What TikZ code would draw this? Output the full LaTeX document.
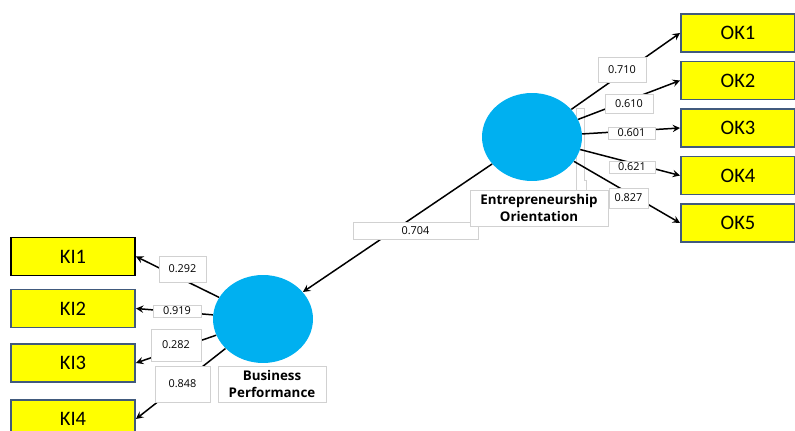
\documentclass[tikz,border=0pt]{standalone}
\usepackage{fontspec}
\setmainfont{Carlito}
\newfontfamily\numfont{Open Sans}
\usetikzlibrary{shapes,positioning}
\usetikzlibrary{arrows}

\definecolor{lvblue}{RGB}{0,176,240}
\definecolor{mvyellow}{RGB}{255,255,0}
\definecolor{mvedge}{RGB}{65,90,125}

\tikzset{
  latent/.style={ellipse,fill=lvblue,minimum width=2.0cm,minimum height=1.76cm,inner sep=0pt},
  manifest/.style={rectangle,fill=mvyellow,draw=mvedge,line width=1.1pt,minimum height=0.76cm,
                   inner sep=0pt,font=\fontsize{11.7}{12}\selectfont},
  coef/.style={rectangle,fill=white,draw=black!18,line width=0.5pt,inner sep=0pt,
               font=\numfont\fontsize{6.2}{7}\selectfont},
  lvname/.style={rectangle,fill=white,draw=black!18,line width=0.5pt,inner sep=0pt,align=center,
                 font=\numfont\bfseries\fontsize{7.6}{10.2}\selectfont},
  load/.style={->,>=stealth,line width=0.85pt}
}

\begin{document}
\begin{tikzpicture}[x=0.02cm,y=-0.02cm]

\useasboundingbox (0,0) rectangle (795,431);
\clip (0,0) rectangle (795,431);

\coordinate (eo) at (532,137);
\coordinate (bp) at (263,319);

% indicator blocks
\foreach \i/\y in {1/33,2/80.5,3/128,4/175.5,5/223}
  {\node[manifest,minimum width=2.28cm] (OK\i) at (738,\y) {OK\i};}
\node[manifest,minimum width=2.48cm,draw=black] (KI1) at (73,256.5) {KI1};
\foreach \i/\y in {2/308.5,3/363,4/419}
  {\node[manifest,minimum width=2.48cm] (KI\i) at (73,\y) {KI\i};}

% left-over frame lines behind the circle
\draw[black!18,line width=0.5pt] (576,190) -- (576,108) -- (584,108) -- (584,180)
   -- (586,180) -- (586,190) -- (608,190);

\node[latent] (EO) at (eo) {};
\node[latent] (BP) at (bp) {};

\foreach \i in {1,...,5}{\draw[load] (EO) -- (OK\i.west);}
\foreach \i in {1,...,4}{\draw[load] (BP) -- (KI\i.east);}
\draw[load] (EO) -- (BP);

% path coefficients
\node[coef,minimum width=0.96cm,minimum height=0.50cm] (w1) at (622,69.5)  {0.710};
\node[coef,minimum width=0.96cm,minimum height=0.38cm] (w2) at (629,103.5) {0.610};
\node[coef,minimum width=0.94cm,minimum height=0.24cm] (w3) at (631.5,133) {0.601};
\node[coef,minimum width=0.92cm,minimum height=0.24cm] (w4) at (632,167)   {0.621};
\node[coef,minimum width=0.78cm,minimum height=0.40cm] (w5) at (628.5,198) {0.827};
\node[coef,minimum width=2.50cm,minimum height=0.34cm] (w0) at (415.5,230.5) {0.704};
\node[coef,minimum width=0.94cm,minimum height=0.52cm] (v1) at (182.5,269) {0.292};
\node[coef,minimum width=0.96cm,minimum height=0.24cm] (v2) at (177,311)   {0.919};
\node[coef,minimum width=1.00cm,minimum height=0.64cm] (v3) at (176,345)   {0.282};
\node[coef,minimum width=1.10cm,minimum height=0.72cm] (v4) at (182.5,384) {0.848};

% construct names
\node[lvname,minimum width=2.76cm,minimum height=0.72cm] (EOname) at (539,208)
   {Entrepreneurship\\Orientation};
\node[lvname,minimum width=2.16cm,minimum height=0.72cm] (BPname) at (272,384)
   {Business\\Performance};

\end{tikzpicture}
\end{document}
